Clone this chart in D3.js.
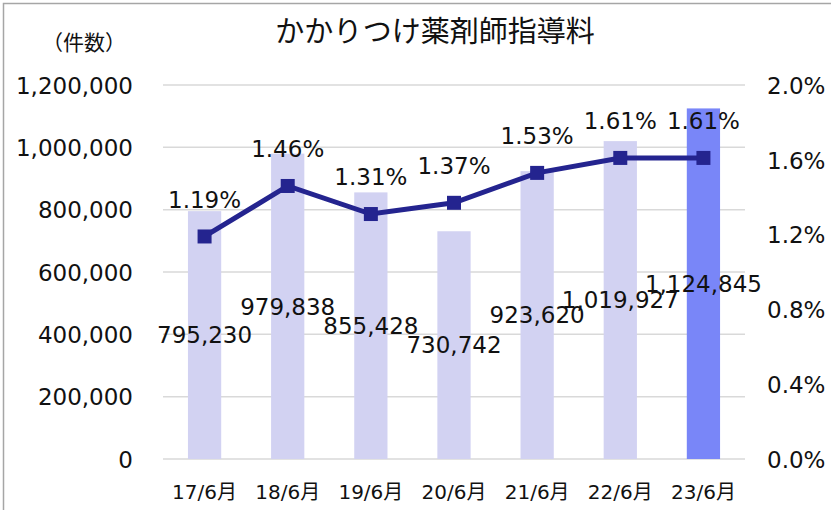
<!DOCTYPE html>
<html>
<head>
<meta charset="utf-8">
<script src="https://cdn.jsdelivr.net/npm/d3@7"></script>
<style>
  html, body { margin: 0; padding: 0; background: #fff; }
  svg text { font-family: "DejaVu Sans", "Noto Sans CJK JP", sans-serif; fill: #111; }
</style>
</head>
<body>
<div id="chart"></div>
<script>
// data
const periods = ["17/6月", "18/6月", "19/6月", "20/6月", "21/6月", "22/6月", "23/6月"];
const counts = [795230, 979838, 855428, 730742, 923620, 1019927, 1124845];
const rates = [1.19, 1.46, 1.31, 1.37, 1.53, 1.61, 1.61];
const countTicks = [0, 200000, 400000, 600000, 800000, 1000000, 1200000];
const rateTicks = [0, 0.4, 0.8, 1.2, 1.6, 2.0];

(function () {
  const W = 831, H = 510;
  const mLeft = 163, mRight = 745, mTop = 85, mBottom = 459;

  const svg = d3.select("#chart").append("svg")
    .attr("width", W).attr("height", H);

  // chart frame
  svg.append("rect").attr("x", 3.5).attr("y", 3.5)
    .attr("width", W + 10).attr("height", H + 10)
    .attr("fill", "none").attr("stroke", "#a6a6a6").attr("stroke-width", 1.5);

  const x = d3.scaleBand().domain(periods).range([mLeft, mRight]).paddingInner(0.6).paddingOuter(0.3);
  const y = d3.scaleLinear().domain([0, 1200000]).range([mBottom, mTop]);
  const y2 = d3.scaleLinear().domain([0, 2.0]).range([mBottom, mTop]);

  // title
  svg.append("text").attr("x", 435).attr("y", 42).attr("text-anchor", "middle")
    .style("font-size", "29px").text("かかりつけ薬剤師指導料");
  svg.append("text").attr("x", 84).attr("y", 50).attr("text-anchor", "middle")
    .style("font-size", "21px").text("（件数）");

  // grid
  svg.append("g").selectAll("line").data(countTicks).enter().append("line")
    .attr("x1", mLeft).attr("x2", mRight)
    .attr("y1", d => y(d)).attr("y2", d => y(d))
    .attr("stroke", "#d9d9d9").attr("stroke-width", 1.5);

  // left axis
  const yAxis = svg.append("g").attr("transform", `translate(${mLeft - 30},0)`)
    .call(d3.axisLeft(y).tickValues(countTicks).tickSize(0).tickPadding(0).tickFormat(d3.format(",")));
  yAxis.select(".domain").remove();
  yAxis.selectAll("text").style("font-size", "23px").attr("dy", "0.36em")
    .style("font-family", "'DejaVu Sans', sans-serif").attr("fill", "#111");

  // right axis
  const yAxis2 = svg.append("g").attr("transform", `translate(${mRight + 22},0)`)
    .call(d3.axisRight(y2).tickValues(rateTicks).tickSize(0).tickPadding(0).tickFormat(d => d.toFixed(1) + "%"));
  yAxis2.select(".domain").remove();
  yAxis2.selectAll("text").style("font-size", "23px").attr("dy", "0.36em").attr("fill", "#111")
    .style("font-family", "'DejaVu Sans', sans-serif");

  // bottom axis
  const xAxis = svg.append("g").attr("transform", `translate(0,${mBottom + 33})`)
    .call(d3.axisBottom(x).tickSize(0).tickPadding(0));
  xAxis.select(".domain").remove();
  xAxis.selectAll("text").style("font-size", "20px").attr("dy", "0.36em").attr("fill", "#111")
    .style("font-family", "'DejaVu Sans', 'Noto Sans CJK JP', sans-serif");

  // bars
  svg.append("g").selectAll("rect").data(counts).enter().append("rect")
    .attr("x", (d, i) => x(periods[i])).attr("width", x.bandwidth())
    .attr("y", d => y(d)).attr("height", d => mBottom - y(d))
    .attr("fill", (d, i) => i === counts.length - 1 ? "#7986f8" : "#d2d2f2");

  // line
  const cx = i => x(periods[i]) + x.bandwidth() / 2;
  svg.append("path").datum(rates)
    .attr("d", d3.line().x((d, i) => cx(i)).y(d => y2(d)))
    .attr("fill", "none").attr("stroke", "#24248f").attr("stroke-width", 5);
  svg.append("g").selectAll("rect").data(rates).enter().append("rect")
    .attr("x", (d, i) => cx(i) - 7).attr("y", d => y2(d) - 7)
    .attr("width", 14).attr("height", 14).attr("fill", "#24248f");

  // rate labels
  svg.append("g").selectAll("text").data(rates).enter().append("text")
    .attr("x", (d, i) => cx(i)).attr("y", d => y2(d) - 37)
    .attr("dy", "0.36em").attr("text-anchor", "middle")
    .style("font-size", "23px").text(d => d.toFixed(2) + "%");

  // count labels at bar centres
  svg.append("g").selectAll("text").data(counts).enter().append("text")
    .attr("x", (d, i) => cx(i)).attr("y", d => y(d / 2))
    .attr("dy", "0.36em").attr("text-anchor", "middle")
    .style("font-size", "23px").text(d => d3.format(",")(d));
})();
</script>
</body>
</html>
